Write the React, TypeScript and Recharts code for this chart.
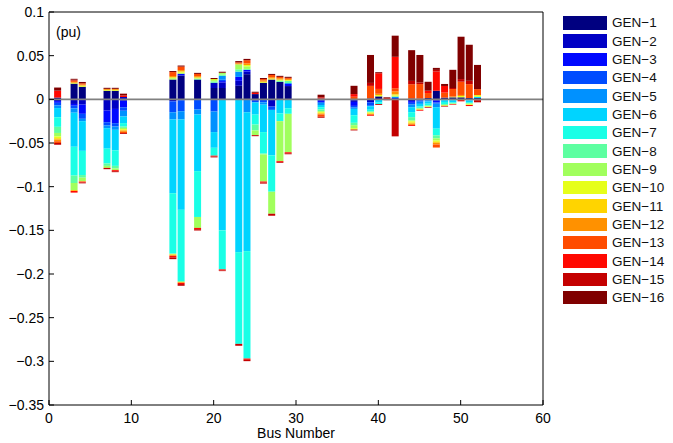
import React from "react";
import { BarChart, Bar, XAxis, YAxis, ReferenceLine } from "recharts";

const GEN_NAMES = [
  "GEN−1", "GEN−2", "GEN−3", "GEN−4", "GEN−5", "GEN−6", "GEN−7", "GEN−8",
  "GEN−9", "GEN−10", "GEN−11", "GEN−12", "GEN−13", "GEN−14", "GEN−15", "GEN−16",
];

// jet-like colormap, 16 steps
const GEN_COLORS = [
  "#000080", "#0000c4", "#0008ff", "#004cff", "#0091ff", "#00d4ff", "#1affe6", "#5dffa1",
  "#a1ff5d", "#e6ff1a", "#ffd400", "#ff9100", "#ff4c00", "#ff0800", "#c40000", "#800000",
];

const BUSES = [1, 3, 4, 7, 8, 9, 15, 16, 18, 20, 21, 23, 24, 25, 26, 27, 28, 29, 33, 37, 39, 40, 41, 42, 44, 45, 46, 47, 48, 49, 50, 51, 52];
const X_TICKS = [0, 10, 20, 30, 40, 50, 60];
const Y_TICKS = [0.1, 0.05, 0, -0.05, -0.1, -0.15, -0.2, -0.25, -0.3, -0.35];

// one row per bus: GEN-1 ... GEN-16 share (pu)
const b01 = [0.002, -0.002, -0.002, -0.003, -0.003, -0.0105, -0.011, -0.007, -0.004, -0.002, -0.0015, -0.002, -0.002, 0.008, -0.002, 0.0035];
const b03 = [0.018, -0.0053, -0.002, -0.003, -0.005, -0.039, -0.033, -0.0085, -0.008, 0.001, -0.001, 0.001, 0.0015, -0.002, 0.001, 0.001];
const b04 = [0.0144, -0.006, -0.0106, -0.0057, -0.0027, -0.034, -0.0277, -0.003, -0.004, 0.0015, -0.0005, 0.001, 0.0015, -0.001, -0.001, 0.0015];
const b07 = [0.0098, -0.0129, -0.0133, -0.0038, -0.003, -0.0235, -0.017, -0.0027, -0.0023, 0.001, 0, 0.0012, 0, 0, -0.0015, 0.0012];
const b08 = [0.0098, -0.011, -0.0163, -0.0038, -0.0038, -0.0235, -0.0178, -0.003, -0.0019, 0.001, 0, 0.0012, 0, -0.0012, -0.0011, 0.0012];
const b09 = [-0.0015, 0.0027, -0.0076, -0.004, -0.0066, -0.0075, -0.004, -0.0015, -0.0015, -0.0015, 0, -0.0015, -0.0015, 0.0018, -0.001, 0.002];
const b15 = [0.0227, -0.0023, 0, -0.0125, -0.0083, -0.0844, -0.069, -0.001, 0.0015, 0.001, -0.0015, 0.0015, 0.0045, -0.002, -0.002, 0.0012];
const b16 = [0.0273, -0.001, 0.002, -0.0126, -0.0095, -0.1034, -0.0815, -0.001, 0.0012, 0.0015, -0.001, 0.0015, 0.004, -0.0015, -0.002, 0.0012];
const b18 = [0.0227, 0, 0, -0.0117, -0.0057, -0.0648, -0.0525, 0.0012, -0.0125, 0.0012, 0, 0.0015, 0.0025, -0.0015, -0.0015, 0.0012];
const b20 = [0.013, 0.006, 0, -0.014, -0.0235, -0.018, -0.009, 0.0015, 0.0015, 0.0012, 0, 0, 0, -0.001, -0.001, 0.0012];
const b21 = [0.013, 0.0064, 0.0015, 0.0015, 0.0045, -0.15, -0.0447, 0.0015, 0.002, 0, 0, 0, 0, -0.0012, -0.0008, 0.0012];
const b23 = [0.0155, 0.0057, 0.0045, 0, 0.006, -0.175, -0.105, 0.0027, 0.0057, 0, 0, 0.0012, 0.001, 0, -0.0022, 0.0015];
const b24 = [0.0288, 0.003, 0.002, 0, -0.0148, -0.159, -0.123, 0.001, 0.003, 0.0015, 0, 0.002, 0.0035, -0.0015, -0.0015, 0.0015];
const b25 = [0.006, -0.0015, 0, -0.002, 0, -0.014, -0.0114, -0.0068, -0.0053, 0, 0, 0, 0, 0.0015, -0.0012, 0.0012];
const b26 = [0.019, 0, 0, -0.0034, -0.0027, -0.0314, -0.0246, -0.001, -0.031, 0.0012, 0, 0.0015, 0.0015, -0.0012, -0.0012, 0.0012];
const b27 = [0.0227, -0.0083, 0, -0.0038, 0, -0.052, -0.0417, 0, -0.0252, 0.0012, 0, 0.0015, 0.0025, 0, -0.0023, 0.0012];
const b28 = [0.02, 0, 0, 0, 0, -0.016, -0.009, 0.0015, -0.0458, 0.0012, 0, 0.0015, 0.0015, -0.001, -0.0009, 0.0012];
const b29 = [0.0152, 0, 0.0025, 0, 0.001, -0.0102, -0.0064, 0.0025, -0.044, 0.001, 0, 0.0012, 0.0012, -0.0012, -0.0011, 0.0012];
const b33 = [0.0008, -0.0015, -0.0015, -0.001, -0.0025, -0.0025, -0.0025, -0.0019, -0.001, -0.001, -0.001, -0.001, -0.0025, 0.0015, -0.0012, 0.003];
const b37 = [-0.001, -0.002, -0.0045, -0.002, -0.0015, -0.0072, -0.0087, -0.0027, -0.0035, -0.0015, 0, 0, 0.003, 0.003, -0.001, 0.0095];
const b39 = [0.001, -0.0034, 0, -0.004, -0.0005, -0.004, -0.0019, -0.0012, 0, -0.001, -0.0008, -0.0008, 0.0144, -0.0012, 0.0034, 0.032];
const b40 = [0.0034, 0, -0.0005, 0, 0, -0.003, -0.002, 0, 0, 0.0015, 0, 0.0015, 0.0055, 0.018, -0.001, 0.0012];
const b41 = [0, 0, 0, 0, 0, 0, 0, 0, 0, 0, 0, 0, 0, 0.0015, -0.001, 0.0008];
const b42 = [0, 0, 0.0015, 0, 0.0015, 0, 0, 0, 0.0012, 0.0015, 0, 0.0035, 0.0035, 0.036, -0.0424, 0.0242];
const b44 = [0.001, -0.002, -0.002, -0.002, -0.003, -0.0057, -0.0057, -0.0038, -0.001, -0.0015, -0.001, -0.0015, 0.0163, -0.0012, 0.0038, 0.0352];
const b45 = [0.0008, -0.0012, 0, -0.0015, -0.0025, -0.003, -0.0015, -0.001, 0, -0.001, 0, -0.0005, 0.0167, -0.0008, 0.0019, 0.0314];
const b46 = [0.0015, 0, 0, -0.001, -0.0015, -0.0025, -0.002, -0.001, 0, -0.0008, 0, 0, 0.0057, 0.0027, -0.0008, 0.0102];
const b47 = [0.0098, -0.0015, -0.002, -0.0015, -0.004, -0.0246, -0.0076, -0.0035, -0.0025, -0.0015, -0.001, -0.002, -0.0035, 0.022, 0.0019, 0.0023];
const b48 = [0.002, 0, 0, -0.001, 0, -0.002, -0.0025, -0.0012, 0, -0.0008, 0, 0, 0.0057, 0.0076, -0.0008, 0.0023];
const b49 = [0.0023, 0, -0.001, 0, 0, -0.0025, -0.0012, 0, -0.0008, 0.0008, 0, 0, 0.0087, -0.0007, 0.0012, 0.0208];
const b50 = [0.0023, 0, 0, -0.0008, 0, 0, 0, 0, 0, 0.0015, 0, 0.0012, 0.0152, -0.0015, 0.003, 0.0485];
const b51 = [0.0015, 0, 0, 0, -0.0012, -0.002, -0.0015, 0, -0.001, -0.0008, 0, 0, 0.0159, -0.0012, 0.0038, 0.0413];
const b52 = [0.0015, 0, 0, 0, 0, 0.0015, 0, 0, 0, 0.0019, 0, 0, 0.0068, -0.001, -0.0024, 0.0277];

const BUS_ROWS = [
  b01, b03, b04, b07, b08, b09, b15, b16, b18, b20, b21, b23, b24, b25, b26, b27, b28,
  b29, b33, b37, b39, b40, b41, b42, b44, b45, b46, b47, b48, b49, b50, b51, b52,
];

const data = BUSES.map((bus, i) => {
  const row: Record<string, number> = { bus };
  BUS_ROWS[i].forEach((v, j) => {
    row[`g${j + 1}`] = v;
  });
  return row;
});

const FONT = '"Liberation Sans", Arial, Helvetica, sans-serif';

const fmtY = (v: number) => {
  const s = String(Math.abs(Math.round(v * 100) / 100));
  return v < 0 ? `\u2212${s}` : s;
};

export default function App() {
  const axisStroke = { stroke: "#000" };
  return (
    <div
      style={{
        position: "absolute",
        left: 0,
        top: 0,
        width: 673,
        height: 443,
        background: "#fff",
        fontFamily: FONT,
      }}
    >
      <BarChart
        width={673}
        height={443}
        data={data}
        stackOffset="sign"
        barSize={7}
        margin={{ top: 11, right: 129, bottom: 0, left: 0 }}
        style={{ fontFamily: FONT }}
      >
        <XAxis
          dataKey="bus"
          type="number"
          domain={[0, 60]}
          ticks={X_TICKS}
          allowDataOverflow
          height={38}
          tickSize={-5}
          tickMargin={13}
          tick={{ fill: "#000", fontSize: 14 }}
          axisLine={axisStroke}
          tickLine={axisStroke}
          label={{ value: "Bus Number", position: "insideBottom", offset: 5, fill: "#000", fontSize: 14 }}
        />
        <XAxis
          xAxisId="top"
          orientation="top"
          type="number"
          domain={[0, 60]}
          ticks={X_TICKS}
          allowDataOverflow
          height={1}
          tickSize={-5}
          tick={false}
          axisLine={axisStroke}
          tickLine={axisStroke}
        />
        <YAxis
          type="number"
          domain={[-0.35, 0.1]}
          ticks={Y_TICKS}
          allowDataOverflow
          width={49}
          tickSize={-5}
          tickMargin={10}
          tickFormatter={fmtY}
          tick={{ fill: "#000", fontSize: 14 }}
          axisLine={axisStroke}
          tickLine={axisStroke}
        />
        <YAxis
          yAxisId="right"
          orientation="right"
          type="number"
          domain={[-0.35, 0.1]}
          ticks={Y_TICKS}
          allowDataOverflow
          width={1}
          tickSize={-5}
          tick={false}
          axisLine={axisStroke}
          tickLine={axisStroke}
        />
        {GEN_NAMES.map((name, j) => (
          <Bar
            key={name}
            dataKey={`g${j + 1}`}
            name={name}
            stackId="a"
            fill={GEN_COLORS[j]}
            isAnimationActive={false}
          />
        ))}
        <ReferenceLine y={0} stroke="#808080" strokeWidth={1.8} />
      </BarChart>

      <span
        style={{
          position: "absolute",
          left: 56,
          top: 24,
          fontSize: 14,
          lineHeight: "16px",
          color: "#000",
        }}
      >
        (pu)
      </span>

      <div style={{ position: "absolute", left: 563, top: 16 }}>
        {GEN_NAMES.map((name, j) => (
          <div
            key={name}
            style={{
              position: "absolute",
              left: 0,
              top: j * 18.33,
              height: 13.5,
              display: "flex",
              alignItems: "center",
              whiteSpace: "nowrap",
            }}
          >
            <div style={{ width: 44, height: 13.5, background: GEN_COLORS[j] }} />
            <span style={{ marginLeft: 5, fontSize: 13.5, color: "#111" }}>{name}</span>
          </div>
        ))}
      </div>
    </div>
  );
}
